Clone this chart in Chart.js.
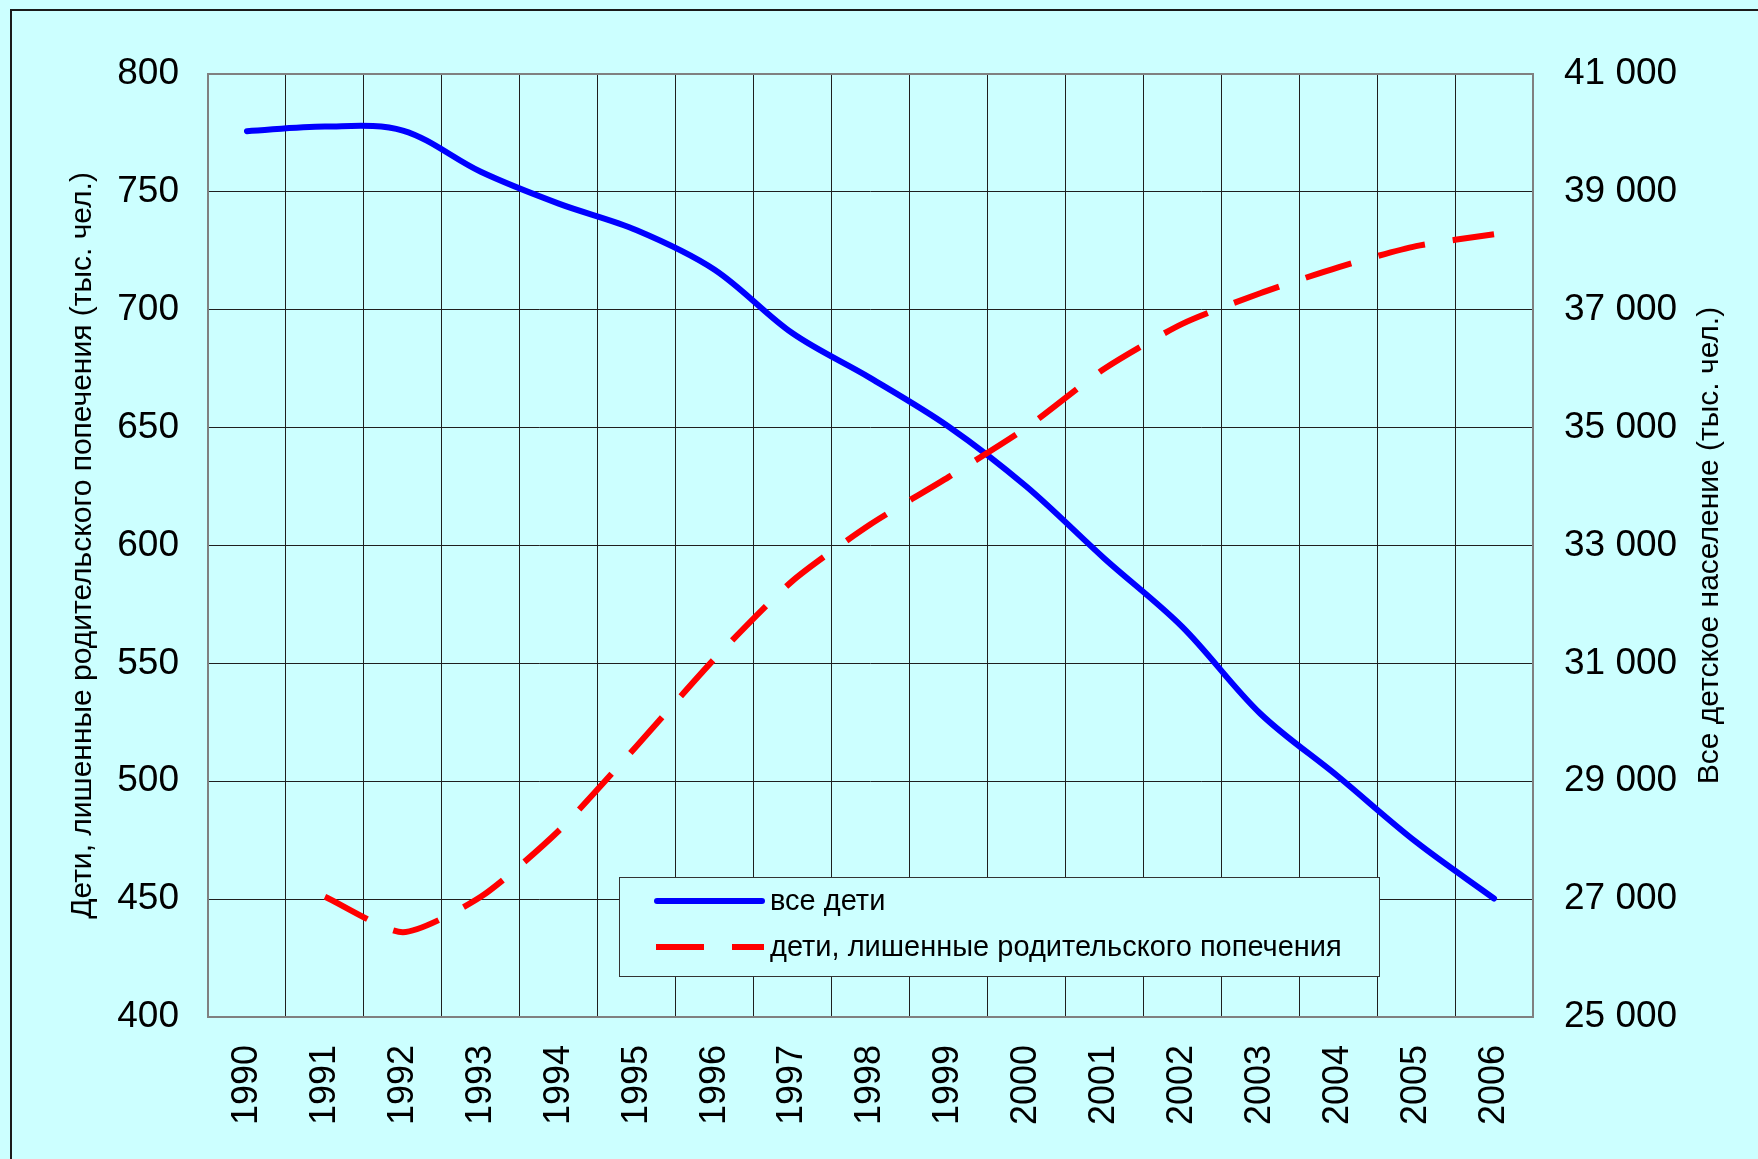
<!DOCTYPE html>
<html>
<head>
<meta charset="utf-8">
<script src="https://cdn.jsdelivr.net/npm/chart.js@4.4.1/dist/chart.umd.min.js"></script>
<style>
html, body { margin: 0; padding: 0; background: #CCFFFF; }
canvas { display: block; }
</style>
</head>
<body>
<canvas id="c" width="1758" height="1159"></canvas>
<script>
// ---- data ----
const years = ['1990','1991','1992','1993','1994','1995','1996','1997','1998','1999','2000','2001','2002','2003','2004','2005','2006'];
const allChildren = [40030, 40110, 40040, 39340, 38800, 38350, 37680, 36600, 35840, 35020, 34000, 32780, 31620, 30150, 29080, 27970, 27010];
const deprivedChildren = [null, 451, 436, 451, 479, 515, 552, 585, 609, 629, 650, 675, 694, 707, 718, 727, 732];
const leftTicks = [400, 450, 500, 550, 600, 650, 700, 750, 800];
const rightTicks = [25000, 27000, 29000, 31000, 33000, 35000, 37000, 39000, 41000];
const seriesNames = ['все дети', 'дети, лишенные родительского попечения'];
const leftTitle = 'Дети, лишенные родительского попечения (тыс. чел.)';
const rightTitle = 'Все детское население (тыс. чел.)';

const FONT = "'Liberation Sans', Arial, sans-serif";
const BG = '#CCFFFF';

function fmtThousands(v) {
  return String(v).replace(/\B(?=(\d{3})+(?!\d))/g, ' ');
}

const decor = {
  id: 'decor',
  beforeDraw(chart) {
    const { ctx, width, height } = chart;
    ctx.save();
    ctx.fillStyle = BG;
    ctx.fillRect(0, 0, width, height);
    ctx.strokeStyle = '#1a1a1a';
    ctx.lineWidth = 2;
    ctx.beginPath();
    ctx.moveTo(11, height);
    ctx.lineTo(11, 10);
    ctx.lineTo(width, 10);
    ctx.stroke();
    ctx.restore();
  },
  beforeDatasetsDraw(chart) {
    const { ctx, chartArea: a } = chart;
    ctx.save();
    ctx.strokeStyle = '#808080';
    ctx.lineWidth = 2;
    ctx.strokeRect(a.left, a.top, a.right - a.left, a.bottom - a.top);
    ctx.restore();
  },
  afterDatasetsDraw(chart) {
    const { ctx, chartArea: a } = chart;
    // right axis title (reads bottom to top)
    ctx.save();
    ctx.translate(1710, (a.top + a.bottom) / 2);
    ctx.rotate(-Math.PI / 2);
    ctx.font = '30px ' + FONT;
    ctx.fillStyle = '#000';
    ctx.textAlign = 'center';
    ctx.textBaseline = 'middle';
    ctx.fillText(rightTitle, 0, 0);
    ctx.restore();

    // legend box
    const bx = 619.5, by = 877.5, bw = 760, bh = 99;
    ctx.save();
    ctx.fillStyle = BG;
    ctx.fillRect(bx, by, bw, bh);
    ctx.strokeStyle = '#333';
    ctx.lineWidth = 1;
    ctx.strokeRect(bx, by, bw, bh);
    const ds = chart.data.datasets;
    const rows = [
      { d: ds[0], y: 901, base: 910 },
      { d: ds[1], y: 947, base: 956 }
    ];
    rows.forEach(r => {
      ctx.save();
      ctx.strokeStyle = r.d.borderColor;
      ctx.lineWidth = r.d.borderWidth;
      ctx.lineCap = r.d.borderCapStyle || 'butt';
      ctx.setLineDash(r.d.borderDash || []);
      ctx.beginPath();
      if (r.d.borderDash) {
        ctx.moveTo(656, r.y);
        ctx.lineTo(764, r.y);
      } else {
        ctx.moveTo(657, r.y);
        ctx.lineTo(762, r.y);
      }
      ctx.stroke();
      ctx.restore();
      ctx.font = '29px ' + FONT;
      ctx.fillStyle = '#000';
      ctx.textAlign = 'left';
      ctx.textBaseline = 'alphabetic';
      ctx.fillText(r.d.label, 770, r.base);
    });
    ctx.restore();
  }
};

const gridColor = '#1f1f1f';

new Chart(document.getElementById('c'), {
  type: 'line',
  data: {
    labels: years,
    datasets: [
      {
        label: seriesNames[0],
        data: allChildren,
        yAxisID: 'y2',
        borderColor: '#0000FF',
        backgroundColor: '#0000FF',
        borderWidth: 6,
        borderCapStyle: 'round',
        borderJoinStyle: 'round',
        pointRadius: 0,
        tension: 0.33,
        fill: false,
        order: 1
      },
      {
        label: seriesNames[1],
        data: deprivedChildren,
        yAxisID: 'y',
        borderColor: '#FF0000',
        backgroundColor: '#FF0000',
        borderWidth: 6,
        borderDash: [48, 28],
        borderCapStyle: 'butt',
        pointRadius: 0,
        tension: 0.22,
        fill: false,
        spanGaps: false,
        order: 0
      }
    ]
  },
  options: {
    responsive: false,
    animation: false,
    devicePixelRatio: 1,
    events: [],
    layout: { padding: { top: 74, left: 0, right: 0, bottom: 0 } },
    plugins: {
      legend: { display: false },
      tooltip: { enabled: false },
      title: { display: false }
    },
    scales: {
      x: {
        type: 'category',
        offset: true,
        grid: { offset: true, color: gridColor, lineWidth: 1, drawTicks: false },
        border: { display: false },
        ticks: {
          autoSkip: false,
          minRotation: 90,
          maxRotation: 90,
          padding: 28,
          color: '#000',
          font: { family: FONT, size: 36 }
        },
        afterFit: s => { s.height = 142; }
      },
      y: {
        position: 'left',
        min: leftTicks[0],
        max: leftTicks[leftTicks.length - 1],
        afterBuildTicks: s => { s.ticks = leftTicks.map(v => ({ value: v })); },
        grid: { color: gridColor, lineWidth: 1, drawTicks: false },
        border: { display: false },
        ticks: {
          padding: 29,
          color: '#000',
          font: { family: FONT, size: 37 }
        },
        title: {
          display: true,
          text: leftTitle,
          color: '#000',
          font: { family: FONT, size: 30 },
          padding: { top: 65, bottom: 0 }
        },
        afterFit: s => { s.width = 208; }
      },
      y2: {
        position: 'right',
        min: rightTicks[0],
        max: rightTicks[rightTicks.length - 1],
        afterBuildTicks: s => { s.ticks = rightTicks.map(v => ({ value: v })); },
        grid: { drawOnChartArea: false, drawTicks: false },
        border: { display: false },
        ticks: {
          padding: 31,
          color: '#000',
          font: { family: FONT, size: 37 },
          callback: v => fmtThousands(v)
        },
        afterFit: s => { s.width = 225; }
      }
    }
  },
  plugins: [decor]
});
</script>
</body>
</html>
